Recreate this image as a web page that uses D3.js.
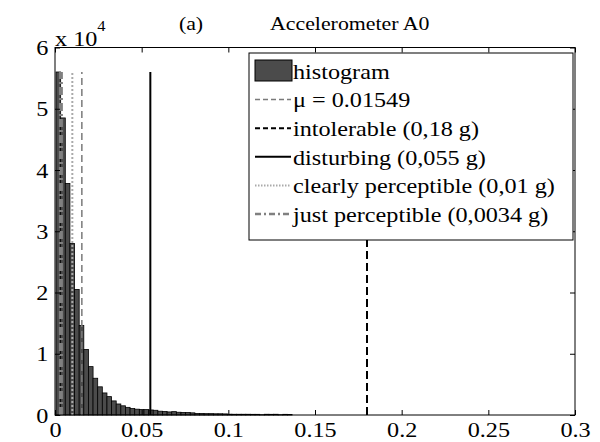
<!DOCTYPE html>
<html>
<head>
<meta charset="utf-8">
<script src="https://cdnjs.cloudflare.com/ajax/libs/d3/7.8.5/d3.min.js"></script>
<style>
  body { margin: 0; background: #fff; }
  svg text { font-family: "Liberation Serif", "Times New Roman", serif; fill: #000; }
</style>
</head>
<body>
<div id="chart"></div>
<script>
// histogram of acceleration peaks (g), counts per bin
var binStart = 0.0006,
    binWidth = 0.00267;
var counts = [56000, 48500, 37800, 28000, 20500, 14600, 10700, 7900, 6000, 4600,
    3600, 3000, 2300, 1800, 1500, 1250, 1050, 950, 900, 880,
    820, 770, 620, 580, 500, 550, 450, 420, 400, 350,
    250, 250, 220, 220, 200, 200, 180, 130, 120, 120,
    120, 120, 110, 110, 50, 120, 110, 120, 50, 110, 80];

// vertical reference lines
var refNames = ["mu", "intolerable", "disturbing", "clearly", "just"];
var refValues = [0.01549, 0.18, 0.055, 0.01, 0.0034];
var legendLabels = ["histogram", "\u03bc = 0.01549", "intolerable (0,18 g)", "disturbing (0,055 g)",
    "clearly perceptible (0,01 g)", "just perceptible (0,0034 g)"];

var xTicks = [0, 0.05, 0.1, 0.15, 0.2, 0.25, 0.3];
var yTicks = [0, 10000, 20000, 30000, 40000, 50000, 60000];

var lineStyle = {
    mu: { stroke: "#7a7a7a", width: 1.5, dash: "7,4" },
    intolerable: { stroke: "#000", width: 2, dash: "8,4" },
    disturbing: { stroke: "#000", width: 2, dash: null },
    clearly: { stroke: "#aaaaaa", width: 2, dash: "2,2" },
    just: { stroke: "#808080", width: 4, dash: "8,3,2,3" }
};

var width = 600,
    height = 442;
var pLeft = 55, pRight = 575, pTop = 47.5, pBottom = 415;
var stretch = 1.1;

var svg = d3.select("#chart").append("svg")
    .attr("width", width)
    .attr("height", height);

var x = d3.scaleLinear().domain([0, 0.3]).range([pLeft, pRight]);
var y = d3.scaleLinear().domain([0, 60000]).range([pBottom, pTop]);

// bars
svg.append("g")
    .selectAll("rect")
    .data(counts)
    .enter().append("rect")
    .attr("x", (d, i) => x(binStart + i * binWidth))
    .attr("y", d => y(d))
    .attr("width", (d, i) => x(binStart + (i + 1) * binWidth) - x(binStart + i * binWidth))
    .attr("height", d => y(0) - y(d))
    .attr("fill", "#4b4b4b")
    .attr("stroke", "#000")
    .attr("stroke-width", 0.8);

// reference lines, from 0 to max count
var maxCount = d3.max(counts);
svg.append("g")
    .selectAll("line")
    .data(refNames)
    .enter().append("line")
    .attr("x1", (d, i) => x(refValues[i]))
    .attr("x2", (d, i) => x(refValues[i]))
    .attr("y1", y(0))
    .attr("y2", y(maxCount))
    .attr("stroke", d => lineStyle[d].stroke)
    .attr("stroke-width", d => lineStyle[d].width)
    .attr("stroke-dasharray", d => lineStyle[d].dash);

// axes box
svg.append("rect")
    .attr("x", pLeft).attr("y", pTop)
    .attr("width", pRight - pLeft).attr("height", pBottom - pTop)
    .attr("fill", "none").attr("stroke", "#000").attr("stroke-width", 1);

var fmtX = d => d === 0 ? "0" : String(+d.toFixed(2));

svg.append("g")
    .attr("transform", "translate(0," + pBottom + ")")
    .call(d3.axisBottom(x).tickValues(xTicks).tickSize(-5).tickPadding(6).tickFormat(fmtX));
svg.append("g")
    .attr("transform", "translate(0," + pTop + ")")
    .call(d3.axisTop(x).tickValues(xTicks).tickSize(-5).tickFormat(""));
svg.append("g")
    .attr("transform", "translate(" + pLeft + ",0)")
    .call(d3.axisLeft(y).tickValues(yTicks).tickSize(-5).tickPadding(6).tickFormat(d => d / 10000));
svg.append("g")
    .attr("transform", "translate(" + pRight + ",0)")
    .call(d3.axisRight(y).tickValues(yTicks).tickSize(-5).tickFormat(""));

svg.selectAll(".domain").remove();
svg.selectAll(".tick line").attr("stroke", "#000");
svg.selectAll(".tick text")
    .style("font-family", "Liberation Serif, serif")
    .style("font-size", "22px")
    .attr("fill", "#000")
    .attr("transform", "scale(" + stretch + ",1)");

// exponent
var expo = svg.append("text")
    .attr("transform", "translate(55,46) scale(" + stretch + ",1)")
    .style("font-size", "22px");
expo.append("tspan").text("x 10");
expo.append("tspan").attr("dy", -15).style("font-size", "15px").text("4");

// title
svg.append("text").attr("transform", "translate(191,30) scale(1.15,1)")
    .attr("text-anchor", "middle")
    .style("font-size", "19px").text("(a)");
svg.append("text").attr("transform", "translate(270,30) scale(1.15,1)")
    .style("font-size", "19px").text("Accelerometer A0");

// legend
var lg = svg.append("g");
lg.append("rect")
    .attr("x", 249).attr("y", 53).attr("width", 324).attr("height", 187)
    .attr("fill", "#fff").attr("stroke", "#000").attr("stroke-width", 1);

var rowY = d3.scaleLinear().domain([0, 5]).range([71, 214]);

lg.append("rect")
    .attr("x", 255).attr("y", rowY(0) - 11).attr("width", 37).attr("height", 21)
    .attr("fill", "#4b4b4b").attr("stroke", "#000").attr("stroke-width", 1);

lg.selectAll("line")
    .data(refNames)
    .enter().append("line")
    .attr("x1", 255).attr("x2", 291)
    .attr("y1", (d, i) => rowY(i + 1)).attr("y2", (d, i) => rowY(i + 1))
    .attr("stroke", d => lineStyle[d].stroke)
    .attr("stroke-width", d => Math.min(lineStyle[d].width, 2.5))
    .attr("stroke-dasharray", d => d === "disturbing" ? null : (d === "just" ? "6,3,2,3" : (d === "clearly" ? "1.5,1.5" : "5,3")));

lg.selectAll("text.lab")
    .data(legendLabels)
    .enter().append("text")
    .attr("class", "lab")
    .attr("transform", (d, i) => "translate(293," + rowY(i) + ") scale(" + stretch + ",1)")
    .attr("dy", "0.35em")
    .style("font-size", "22px")
    .text(d => d);
</script>
</body>
</html>
